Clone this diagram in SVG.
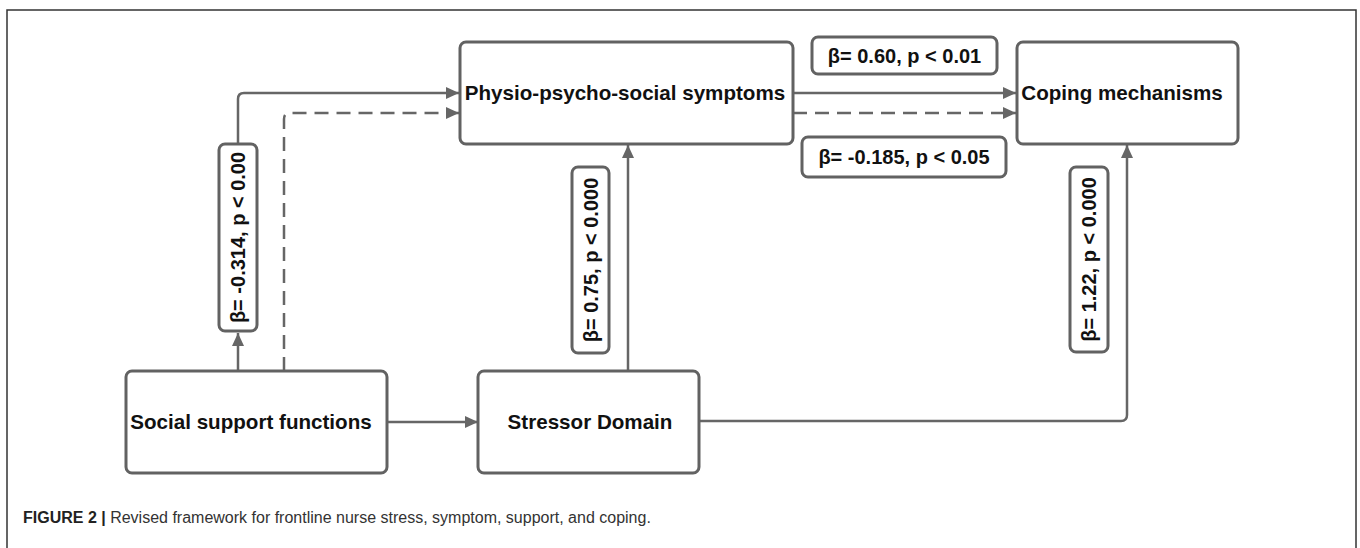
<svg xmlns="http://www.w3.org/2000/svg" width="1360" height="548" viewBox="0 0 1360 548">
<defs>
<style>
.node{fill:#fff;stroke:#626262;stroke-width:3}
.lbl{fill:#fff;stroke:#626262;stroke-width:3}
.nt{font-family:"Liberation Sans",Arial,sans-serif;font-weight:bold;font-size:20px;fill:#111;text-anchor:middle}
.big{font-size:20.6px}
.conn{fill:none;stroke:#666;stroke-width:2.5}
.dash{stroke-dasharray:14 8}
.cap{font-family:"Liberation Sans",Arial,sans-serif;font-size:16px;fill:#333}
</style>
<marker id="ah" markerUnits="userSpaceOnUse" markerWidth="14" markerHeight="12" refX="13" refY="6" orient="auto">
<path d="M0,0 L13,6 L0,12 z" fill="#666"/>
</marker>
</defs>
<rect id="frame" x="7" y="10" width="1349" height="600" fill="none" stroke="#333" stroke-width="1.5"/>
<g id="connectors">
<path class="conn" d="M238,371 V333" marker-end="url(#ah)"/>
<path class="conn" d="M238,144 V99 Q238,93 244,93 H459" marker-end="url(#ah)"/>
<path class="conn dash" d="M284,371 V119 Q284,113 290,113 H459" marker-end="url(#ah)"/>
<path class="conn" d="M387,422 H478" marker-end="url(#ah)"/>
<path class="conn" d="M628,370 V145" marker-end="url(#ah)"/>
<path class="conn" d="M793,93 H1016" marker-end="url(#ah)"/>
<path class="conn dash" d="M793,113 H1016" marker-end="url(#ah)"/>
<path class="conn" d="M699,421 H1121 Q1127,421 1127,415 V145" marker-end="url(#ah)"/>
</g>
<g id="physio">
<rect class="node" x="460" y="42" width="333" height="102" rx="6"/>
<text class="nt big" x="625" y="100">Physio-psycho-social symptoms</text>
</g>
<g id="coping">
<rect class="node" x="1017" y="42" width="221" height="102" rx="6"/>
<text class="nt big" x="1122" y="100">Coping mechanisms</text>
</g>
<g id="social">
<rect class="node" x="126" y="371" width="261" height="102" rx="6"/>
<text class="nt big" x="251" y="429">Social support functions</text>
</g>
<g id="stressor">
<rect class="node" x="478" y="371" width="221" height="102" rx="6"/>
<text class="nt big" x="590" y="429">Stressor Domain</text>
</g>
<g id="label-060">
<rect class="lbl" x="812" y="37" width="185" height="37" rx="6"/>
<text class="nt" x="904.5" y="62.5">β= 0.60, p &lt; 0.01</text>
</g>
<g id="label-0185">
<rect class="lbl" x="802" y="137" width="204" height="40" rx="6"/>
<text class="nt" x="904" y="164">β= -0.185, p &lt; 0.05</text>
</g>
<g id="label-0314">
<rect class="lbl" x="219" y="144" width="38" height="187" rx="6"/>
<text class="nt" transform="translate(245,237.5) rotate(-90)">β= -0.314, p &lt; 0.00</text>
</g>
<g id="label-075">
<rect class="lbl" x="572" y="167" width="37" height="186" rx="6"/>
<text class="nt" transform="translate(597.5,260) rotate(-90)">β= 0.75, p &lt; 0.000</text>
</g>
<g id="label-122">
<rect class="lbl" x="1070" y="167" width="38" height="185" rx="6"/>
<text class="nt" transform="translate(1096,259.5) rotate(-90)">β= 1.22, p &lt; 0.000</text>
</g>
<text class="cap" x="23" y="523"><tspan font-weight="bold" fill="#222">FIGURE 2 |</tspan> Revised framework for frontline nurse stress, symptom, support, and coping.</text>
</svg>
